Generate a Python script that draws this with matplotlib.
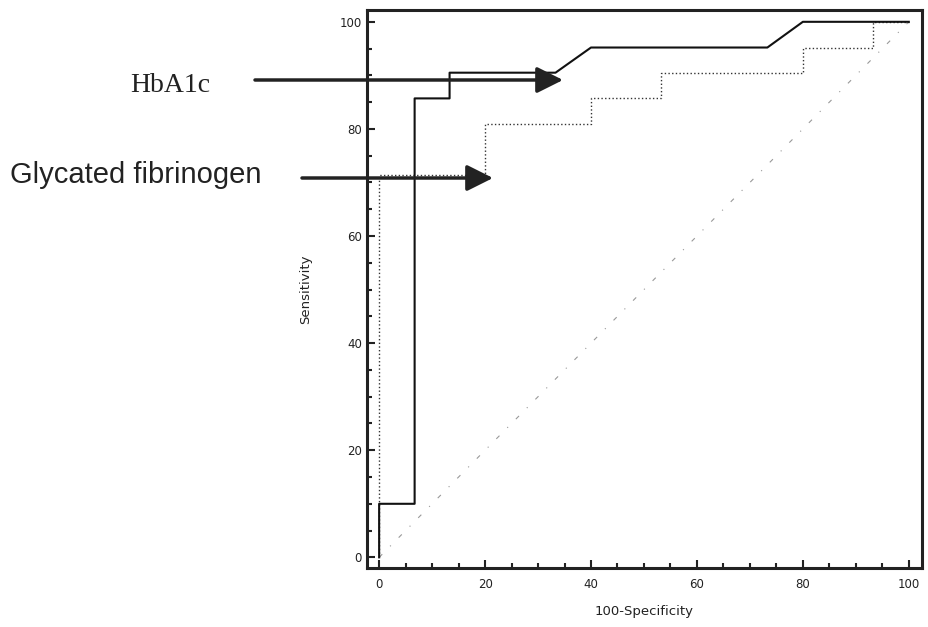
import matplotlib.pyplot as plt
import numpy as np

# ROC curves (100-Specificity, Sensitivity)
hba1c_x = [0, 0, 6.7, 6.7, 13.3, 13.3, 33.3, 40, 73.3, 80, 100]
hba1c_y = [0, 10, 10, 85.7, 85.7, 90.5, 90.5, 95.2, 95.2, 100, 100]

fib_x = [0, 0, 20, 20, 40, 40, 53.3, 53.3, 80, 80, 93.3, 93.3, 100]
fib_y = [0, 71.4, 71.4, 81, 81, 85.7, 85.7, 90.5, 90.5, 95.2, 95.2, 100, 100]

diag = [0, 100]

fig = plt.figure(figsize=(9.29, 6.27), dpi=100)
ax = fig.add_axes([0.395, 0.094, 0.5975, 0.89])

ax.plot(diag, diag, color='#999999', linewidth=0.8, linestyle=(0, (4, 10, 1, 10)))
ax.plot(fib_x, fib_y, color='#333333', linewidth=1.0, linestyle=':')
ax.plot(hba1c_x, hba1c_y, color='#111111', linewidth=1.5)

ax.set_xlim(-2.3, 102.5)
ax.set_ylim(-2, 102.2)
ax.set_xticks(np.arange(0, 101, 20))
ax.set_yticks(np.arange(0, 101, 20))
ax.set_xticks(np.arange(0, 101, 5), minor=True)
ax.set_yticks(np.arange(0, 101, 5), minor=True)
ax.tick_params(which='both', direction='in', width=1.5, colors='#222222', labelsize=8.5)
ax.tick_params(which='major', length=6)
ax.tick_params(axis='x', which='major', pad=7)
ax.tick_params(which='minor', length=3.5)
for s in ax.spines.values():
    s.set_linewidth(2.2)
    s.set_color('#222222')

ax.set_xlabel('100-Specificity', fontsize=9.5, labelpad=10, color='#222222')
ax.set_ylabel('Sensitivity', fontsize=9.5, labelpad=20, color='#222222')

# labels with arrows on the left
fig.text(170, 542, 'HbA1c', transform=None, fontsize=20, family='Liberation Serif',
         ha='center', va='center', color='#222222')
fig.text(10, 452, 'Glycated fibrinogen', transform=None, fontsize=21, family='Liberation Sans',
         ha='left', va='center', color='#222222')
arrow = dict(arrowstyle='-|>,head_length=1.6,head_width=0.8', color='#222222', lw=2.5,
             shrinkA=0, shrinkB=0)
ax.annotate('', xy=(563, 547), xytext=(255, 547), xycoords='figure pixels',
            textcoords='figure pixels', arrowprops=arrow, annotation_clip=False)
ax.annotate('', xy=(493, 449), xytext=(302, 449), xycoords='figure pixels',
            textcoords='figure pixels', arrowprops=arrow, annotation_clip=False)

fig.savefig('out.png', dpi=100)
